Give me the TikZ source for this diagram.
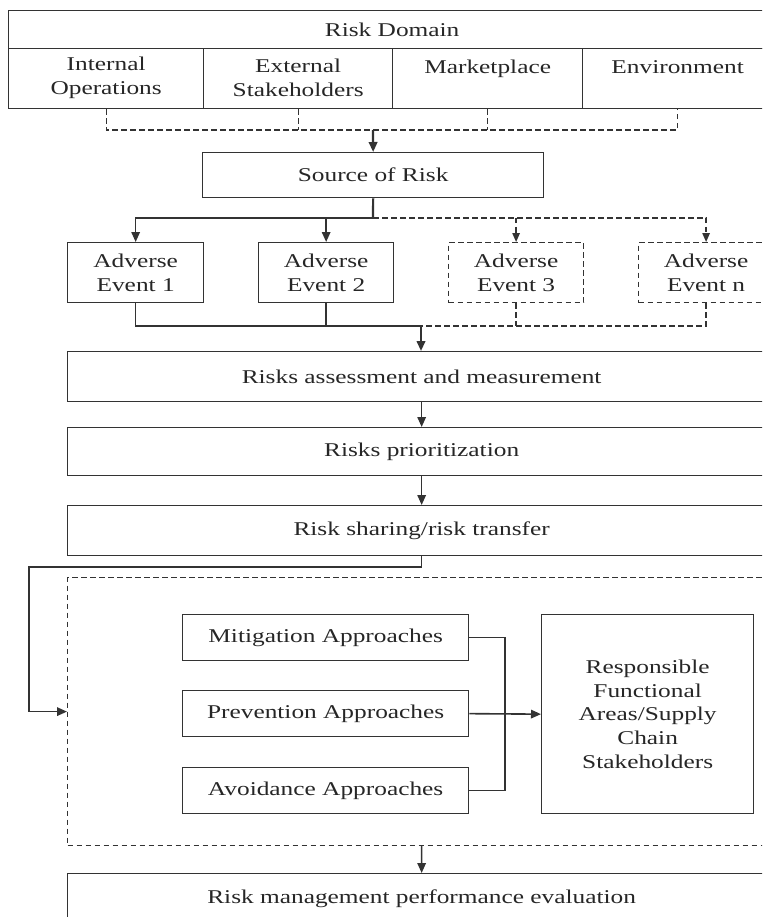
\documentclass[tikz,border=0pt]{standalone}
\usepackage{fontspec}
\setmainfont{Liberation Serif}[FakeStretch=1.3]
\usetikzlibrary{arrows.meta}

\newcommand\dfont{\fontsize{19.5}{23.8}\selectfont}
\colorlet{inkc}{black!80}

\begin{document}
\begin{tikzpicture}[x=1pt, y=-1pt,
    every node/.style={font=\dfont, text=black!85},
    box/.style={draw=inkc, line width=1.3pt, anchor=north west, inner sep=0pt, align=center},
    dbox/.style={box, line width=1.2pt, dash pattern=on 5.5pt off 3.5pt},
    celltxt/.style={anchor=north, align=center, inner sep=0pt},
    wire/.style={draw=inkc, line width=1.6pt},
    dwire/.style={wire, line width=1.3pt, dash pattern=on 5.5pt off 3.5pt},
    arr/.style={wire, -{Triangle[length=10pt,width=8.5pt]}},
    darr/.style={dwire, -{Triangle[length=9pt,width=7.5pt]}}]
    \clip (0,0) rectangle (762,917);

    % risk domain
    \node[box, minimum width=767pt, minimum height=38pt] (dom) at (8,10) {Risk Domain};
    \node[box, minimum width=195pt, minimum height=60pt] (io)  at (8,48) {};
    \node[box, minimum width=189pt, minimum height=60pt] (ext) at (203,48) {};
    \node[box, minimum width=190pt, minimum height=60pt] (mkt) at (392,48) {};
    \node[box, minimum width=190pt, minimum height=60pt] (env) at (582,48) {};
    \node[celltxt] (io-t)  at ([yshift=-9pt]io.north)   {Internal\\Operations};
    \node[celltxt] (ext-t) at ([yshift=-11pt]ext.north) {External\\Stakeholders};
    \node[celltxt] (mkt-t) at ([yshift=-12pt]mkt.north) {Marketplace};
    \node[celltxt] (env-t) at ([yshift=-12pt]env.north) {Environment};
    \coordinate (dom-j) at (373,130);
    \draw[dwire] (io.south) |- (dom-j -| env.south) -- (env.south);
    \draw[dwire] (ext.south) -- (ext.south |- dom-j);
    \draw[dwire] (mkt.south) -- (mkt.south |- dom-j);

    % source
    \node[box, minimum width=341pt, minimum height=45pt] (src) at (202,152) {Source of Risk};
    \draw[arr, line width=2.2pt] (dom-j) -- (src.north);

    % events
    \node[box, minimum width=136pt, minimum height=60pt] (ev1) at (67,242) {Adverse\\Event 1};
    \node[box, minimum width=135pt, minimum height=60pt] (ev2) at (258,242) {Adverse\\Event 2};
    \node[dbox, minimum width=135pt, minimum height=60pt] (ev3) at (448,242) {Adverse\\Event 3};
    \node[dbox, minimum width=135pt, minimum height=60pt] (evn) at (638,242) {Adverse\\Event n};
    \coordinate (split) at (373,218);
    \draw[darr] (split) -| (evn.north);
    \draw[darr] (split -| ev3.north) -- (ev3.north);
    \draw[wire, line width=2.2pt] (src.south) -- (split);
    \draw[arr] (split) -| (ev1.north);
    \draw[arr] (split -| ev2.north) -- (ev2.north);

    \coordinate (merge) at (421,326);
    \draw[dwire] (evn.south) |- (merge);
    \draw[dwire] (ev3.south) -- (ev3.south |- merge);
    \draw[wire] (ev1.south) |- (merge);
    \draw[wire, line width=2.2pt] (ev2.south |- merge) -- (merge);
    \draw[wire] (ev2.south) -- (ev2.south |- merge);

    % assessment chain
    \node[box, minimum width=708pt, minimum height=50pt] (asm)   at (67,351) {Risks assessment and measurement};
    \node[box, minimum width=708pt, minimum height=48pt] (prio)  at (67,427) {Risks prioritization};
    \node[box, minimum width=708pt, minimum height=50pt] (share) at (67,505) {Risk sharing/risk transfer};
    \draw[arr, line width=2.2pt] (merge) -- (merge |- asm.north);
    \draw[arr] (asm.south) -- (prio.north);
    \draw[arr] (prio.south) -- (share.north);

    % approaches
    \node[dbox, minimum width=708pt, minimum height=268pt] (mgmt) at (67,577) {};
    \node[box, minimum width=286pt, minimum height=46pt] (mit)  at (182,614) {Mitigation Approaches};
    \node[box, minimum width=286pt, minimum height=46pt] (prev) at (182,690) {Prevention Approaches};
    \node[box, minimum width=286pt, minimum height=46pt] (avo)  at (182,767) {Avoidance Approaches};
    \node[box, minimum width=212pt, minimum height=199pt] (resp) at (541,614)
        {Responsible\\Functional\\Areas/Supply\\Chain\\Stakeholders};
    \coordinate (bus) at (505,713);
    \draw[wire] (mit.east) -| (bus) |- (avo.east);
    \draw[arr] (prev.east) -- (resp.west);

    \coordinate (fb) at (29,567);
    \draw[arr] (share.south) -- (share.south |- fb) -- (fb) |- (mgmt.west);

    % evaluation
    \node[box, minimum width=708pt, minimum height=50pt] (eval) at (67,873) {Risk management performance evaluation};
    \draw[arr] (mgmt.south) -- (eval.north);
\end{tikzpicture}
\end{document}
